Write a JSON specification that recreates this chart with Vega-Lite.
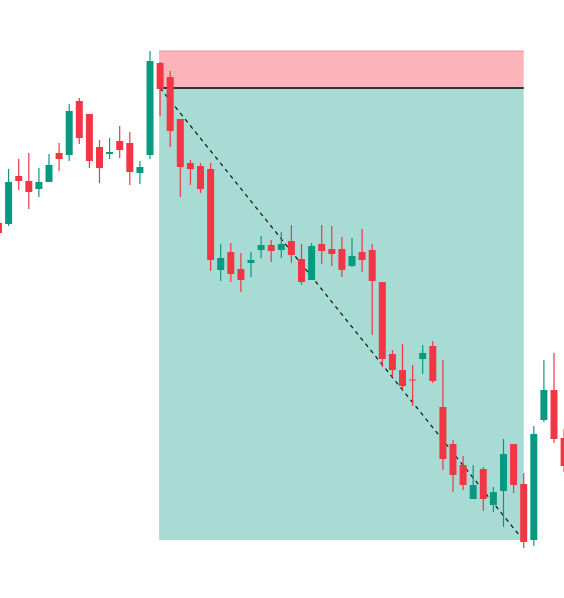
{
  "$schema": "https://vega.github.io/schema/vega-lite/v6.json",
  "width": 564,
  "height": 598,
  "autosize": {"type": "none"},
  "padding": 0,
  "background": "white",
  "datasets": {
    "candles": [
      {"i": 0, "open": 37.7, "high": 37.9, "low": 36.6, "close": 36.7},
      {"i": 1, "open": 37.6, "high": 43.1, "low": 37.4, "close": 41.8},
      {"i": 2, "open": 42.4, "high": 44.1, "low": 41.0, "close": 41.9},
      {"i": 3, "open": 41.9, "high": 44.7, "low": 39.1, "close": 40.8},
      {"i": 4, "open": 41.1, "high": 43.2, "low": 40.3, "close": 41.8},
      {"i": 5, "open": 41.8, "high": 44.6, "low": 41.8, "close": 43.5},
      {"i": 6, "open": 44.7, "high": 45.7, "low": 42.9, "close": 44.1},
      {"i": 7, "open": 44.5, "high": 49.6, "low": 43.9, "close": 48.9},
      {"i": 8, "open": 49.9, "high": 50.2, "low": 45.6, "close": 46.2},
      {"i": 9, "open": 48.6, "high": 48.6, "low": 43.2, "close": 43.9},
      {"i": 10, "open": 45.3, "high": 46.0, "low": 41.7, "close": 43.2},
      {"i": 11, "open": 44.6, "high": 46.2, "low": 44.1, "close": 44.8},
      {"i": 12, "open": 45.9, "high": 47.4, "low": 44.2, "close": 45.0},
      {"i": 13, "open": 45.7, "high": 46.8, "low": 41.5, "close": 42.8},
      {"i": 14, "open": 42.7, "high": 43.9, "low": 41.6, "close": 43.3},
      {"i": 15, "open": 44.5, "high": 54.9, "low": 44.1, "close": 53.9},
      {"i": 16, "open": 53.7, "high": 53.8, "low": 48.4, "close": 51.1},
      {"i": 17, "open": 52.3, "high": 52.9, "low": 45.3, "close": 46.9},
      {"i": 18, "open": 48.1, "high": 48.1, "low": 40.3, "close": 43.3},
      {"i": 19, "open": 43.7, "high": 44.0, "low": 41.5, "close": 43.1},
      {"i": 20, "open": 43.4, "high": 43.7, "low": 40.7, "close": 41.1},
      {"i": 21, "open": 43.1, "high": 43.7, "low": 32.9, "close": 34.0},
      {"i": 22, "open": 33.0, "high": 35.6, "low": 31.9, "close": 34.2},
      {"i": 23, "open": 34.8, "high": 35.7, "low": 31.8, "close": 32.6},
      {"i": 24, "open": 33.1, "high": 34.7, "low": 30.8, "close": 32.0},
      {"i": 25, "open": 33.7, "high": 34.8, "low": 32.3, "close": 34.0},
      {"i": 26, "open": 35.0, "high": 36.4, "low": 34.2, "close": 35.5},
      {"i": 27, "open": 35.5, "high": 36.0, "low": 33.8, "close": 34.9},
      {"i": 28, "open": 35.0, "high": 36.8, "low": 34.2, "close": 35.6},
      {"i": 29, "open": 35.9, "high": 37.5, "low": 33.7, "close": 34.5},
      {"i": 30, "open": 34.1, "high": 35.6, "low": 31.5, "close": 31.8},
      {"i": 31, "open": 32.0, "high": 35.7, "low": 32.0, "close": 35.4},
      {"i": 32, "open": 35.6, "high": 37.5, "low": 33.6, "close": 34.9},
      {"i": 33, "open": 35.1, "high": 37.4, "low": 33.4, "close": 34.6},
      {"i": 34, "open": 35.1, "high": 36.3, "low": 32.3, "close": 33.0},
      {"i": 35, "open": 33.4, "high": 36.2, "low": 33.3, "close": 34.4},
      {"i": 36, "open": 34.8, "high": 37.1, "low": 32.8, "close": 34.0},
      {"i": 37, "open": 35.0, "high": 35.6, "low": 26.5, "close": 31.9},
      {"i": 38, "open": 31.8, "high": 31.8, "low": 23.3, "close": 24.1},
      {"i": 39, "open": 24.6, "high": 25.0, "low": 22.3, "close": 23.0},
      {"i": 40, "open": 23.0, "high": 25.6, "low": 21.0, "close": 21.4},
      {"i": 41, "open": 22.05, "high": 23.5, "low": 19.4, "close": 21.95},
      {"i": 42, "open": 24.1, "high": 25.5, "low": 22.6, "close": 24.7},
      {"i": 43, "open": 25.4, "high": 25.9, "low": 21.7, "close": 21.9},
      {"i": 44, "open": 19.3, "high": 24.0, "low": 13.0, "close": 14.1},
      {"i": 45, "open": 15.6, "high": 16.0, "low": 10.8, "close": 12.5},
      {"i": 46, "open": 13.5, "high": 14.4, "low": 11.0, "close": 11.5},
      {"i": 47, "open": 10.1, "high": 13.5, "low": 10.1, "close": 11.5},
      {"i": 48, "open": 13.1, "high": 13.3, "low": 8.9, "close": 10.1},
      {"i": 49, "open": 9.5, "high": 11.3, "low": 8.8, "close": 10.8},
      {"i": 50, "open": 10.9, "high": 16.1, "low": 7.3, "close": 14.6},
      {"i": 51, "open": 15.6, "high": 15.6, "low": 10.7, "close": 11.5},
      {"i": 52, "open": 11.6, "high": 12.7, "low": 5.2, "close": 5.8},
      {"i": 53, "open": 6.0, "high": 17.4, "low": 5.4, "close": 16.6},
      {"i": 54, "open": 18.0, "high": 24.0, "low": 17.8, "close": 21.0},
      {"i": 55, "open": 21.0, "high": 24.7, "low": 15.7, "close": 16.1},
      {"i": 56, "open": 16.2, "high": 17.1, "low": 12.8, "close": 13.4}
    ],
    "zones": [
      {"zone": "stop", "start": 15.9, "end": 52.0, "top": 54.9, "bottom": 51.2},
      {"zone": "target", "start": 15.9, "end": 52.0, "top": 51.2, "bottom": 6.0}
    ],
    "lines": [
      {"kind": "stopEdge", "start": 15.9, "end": 52.0, "from": 54.9, "to": 54.9},
      {"kind": "entry", "start": 15.9, "end": 52.0, "from": 51.2, "to": 51.2},
      {"kind": "path", "start": 16.0, "end": 51.7, "from": 51.2, "to": 6.3}
    ]
  },
  "encoding": {
    "x": {
      "field": "i",
      "type": "quantitative",
      "axis": null,
      "scale": {"domain": [0.1485, 55.99], "nice": false, "zero": false, "padding": 0}
    }
  },
  "layer": [
    {
      "data": {"name": "zones"},
      "mark": {"type": "rect"},
      "encoding": {
        "x": {"field": "start", "type": "quantitative"},
        "x2": {"field": "end"},
        "y": {
          "field": "top",
          "type": "quantitative",
          "axis": null,
          "scale": {"domain": [0.2, 60], "nice": false, "zero": false, "padding": 0}
        },
        "y2": {"field": "bottom"},
        "color": {
          "field": "zone",
          "type": "nominal",
          "legend": null,
          "scale": {"domain": ["stop", "target"], "range": ["#FAB4BA", "#A8DBD4"]}
        }
      }
    },
    {
      "data": {"name": "lines"},
      "transform": [{"filter": "datum.kind === 'stopEdge'"}],
      "mark": {"type": "rule", "color": "#EE8F98", "strokeWidth": 1},
      "encoding": {
        "x": {"field": "start", "type": "quantitative"},
        "x2": {"field": "end"},
        "y": {"field": "from", "type": "quantitative"}
      }
    },
    {
      "data": {"name": "lines"},
      "transform": [{"filter": "datum.kind === 'entry'"}],
      "mark": {"type": "rule", "color": "#000000", "strokeWidth": 1.5},
      "encoding": {
        "x": {"field": "start", "type": "quantitative"},
        "x2": {"field": "end"},
        "y": {"field": "from", "type": "quantitative"}
      }
    },
    {
      "data": {"name": "lines"},
      "transform": [{"filter": "datum.kind === 'path'"}],
      "mark": {"type": "rule", "color": "#111111", "strokeWidth": 1.2, "strokeDash": [4, 4]},
      "encoding": {
        "x": {"field": "start", "type": "quantitative"},
        "x2": {"field": "end"},
        "y": {"field": "from", "type": "quantitative"},
        "y2": {"field": "to"}
      }
    },
    {
      "data": {"name": "candles"},
      "mark": {"type": "rule", "strokeWidth": 1.2, "clip": true},
      "encoding": {
        "y": {"field": "low", "type": "quantitative"},
        "y2": {"field": "high"},
        "color": {
          "condition": {"test": "datum.close >= datum.open", "value": "#089981"},
          "value": "#F23645"
        }
      }
    },
    {
      "data": {"name": "candles"},
      "mark": {"type": "bar", "size": 7, "clip": true},
      "encoding": {
        "y": {"field": "open", "type": "quantitative"},
        "y2": {"field": "close"},
        "color": {
          "condition": {"test": "datum.close >= datum.open", "value": "#089981"},
          "value": "#F23645"
        }
      }
    }
  ],
  "config": {
    "view": {"stroke": null},
    "style": {"cell": {"stroke": "transparent"}}
  }
}
